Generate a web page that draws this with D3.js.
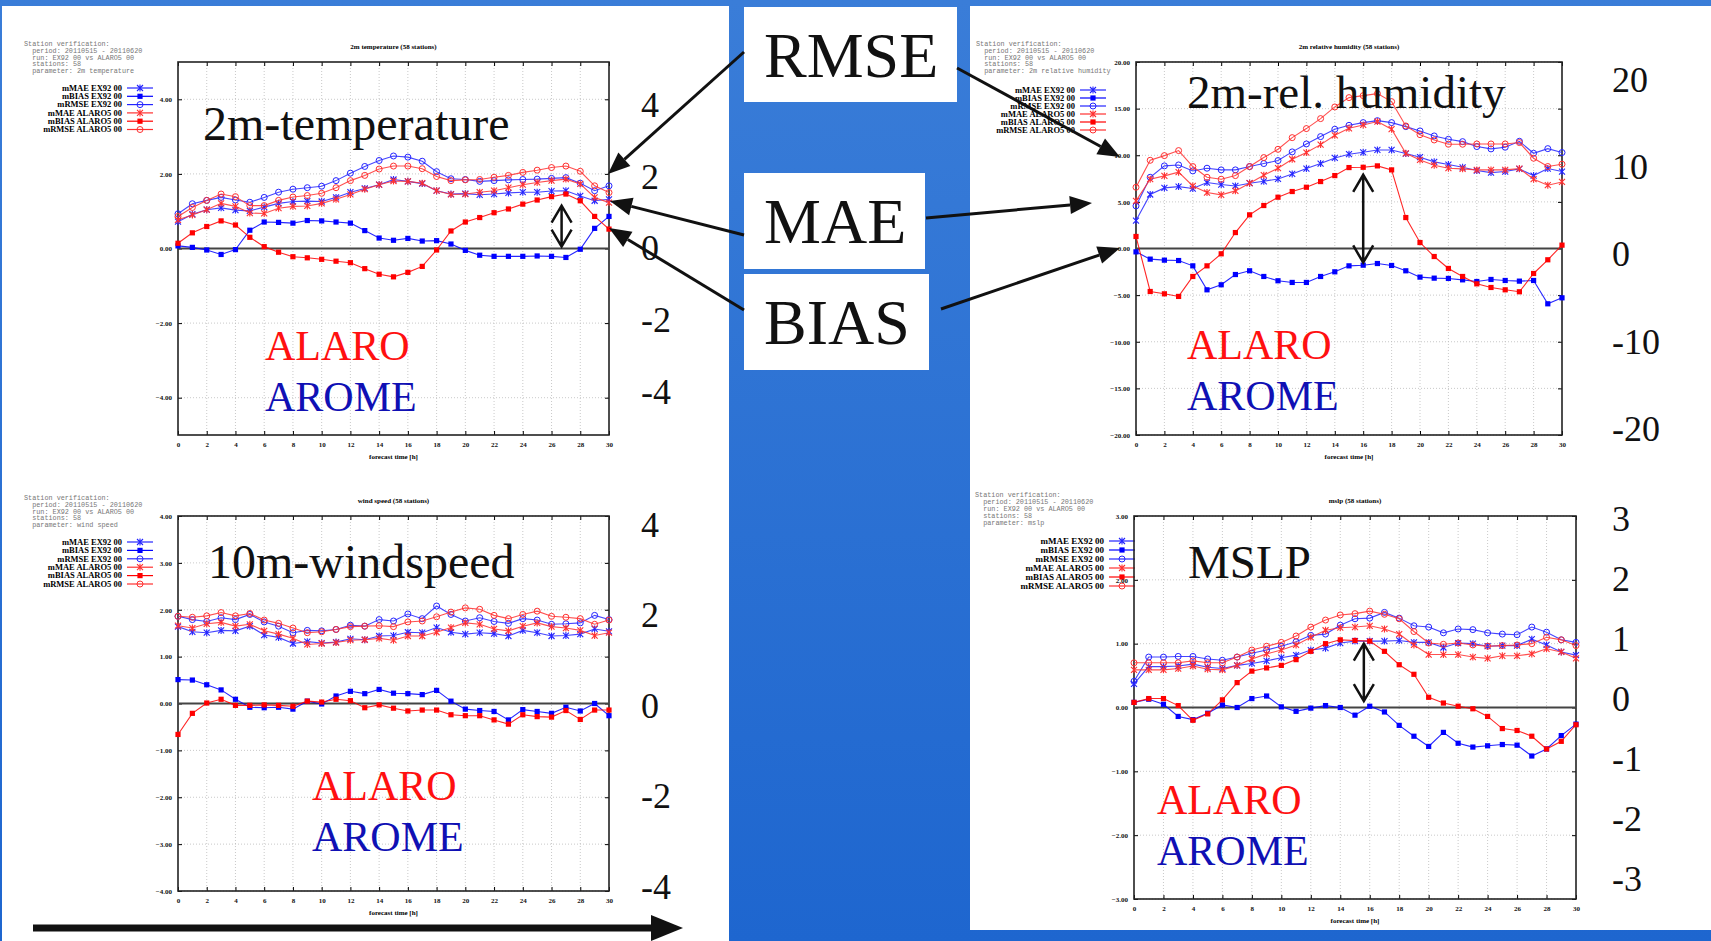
<!DOCTYPE html>
<html>
<head>
<meta charset="utf-8">
<script src="https://cdn.jsdelivr.net/npm/d3@7"></script>
<style>
  body { margin: 0; overflow: hidden; background: #fff; }
  svg { display: block; }
</style>
</head>
<body>
<svg id="slide" width="1711" height="941"></svg>
<script>
// forecast hours
const hours = [0,1,2,3,4,5,6,7,8,9,10,11,12,13,14,15,16,17,18,19,20,21,22,23,24,25,26,27,28,29,30]

// 2m temperature
const t2mMaeEx  = [0.72,0.92,1.04,1.09,1.03,1.01,1.11,1.21,1.26,1.27,1.26,1.37,1.51,1.61,1.71,1.85,1.80,1.74,1.55,1.46,1.47,1.44,1.46,1.49,1.51,1.51,1.54,1.55,1.41,1.28,1.32]
const t2mBiasEx = [0.07,0.03,-0.04,-0.16,-0.03,0.49,0.71,0.70,0.68,0.75,0.74,0.71,0.68,0.48,0.28,0.22,0.27,0.20,0.21,0.12,-0.05,-0.18,-0.21,-0.21,-0.21,-0.20,-0.21,-0.24,-0.02,0.54,0.86]
const t2mRmseEx = [0.93,1.20,1.29,1.37,1.30,1.24,1.37,1.51,1.59,1.63,1.67,1.82,2.02,2.20,2.36,2.48,2.45,2.34,2.06,1.87,1.85,1.80,1.82,1.84,1.85,1.86,1.88,1.90,1.75,1.55,1.68]
const t2mMaeAl  = [0.77,0.90,1.04,1.21,1.13,0.95,0.94,1.08,1.13,1.14,1.21,1.32,1.45,1.59,1.71,1.81,1.80,1.75,1.55,1.45,1.46,1.51,1.55,1.63,1.71,1.77,1.82,1.86,1.73,1.37,1.23]
const t2mBiasAl = [0.14,0.42,0.59,0.74,0.63,0.30,0.05,-0.10,-0.22,-0.25,-0.29,-0.34,-0.38,-0.54,-0.69,-0.76,-0.64,-0.48,-0.04,0.47,0.71,0.83,0.96,1.06,1.19,1.30,1.39,1.46,1.28,0.86,0.52]
const t2mRmseAl = [0.86,1.10,1.29,1.46,1.39,1.15,1.15,1.29,1.38,1.42,1.48,1.63,1.82,1.96,2.13,2.21,2.21,2.14,1.93,1.82,1.84,1.85,1.91,1.96,2.04,2.10,2.17,2.21,2.07,1.68,1.50]

// 2m relative humidity
const rhMaeEx  = [3.00,5.79,6.50,6.64,6.43,7.07,6.86,6.71,7.00,7.21,7.46,8.00,8.57,9.11,9.71,10.11,10.32,10.57,10.57,10.18,9.79,9.29,9.00,8.71,8.36,8.14,8.25,8.54,7.82,8.57,8.25]
const rhBiasEx = [-0.36,-1.14,-1.25,-1.29,-1.86,-4.43,-3.89,-2.79,-2.39,-3.00,-3.46,-3.64,-3.64,-3.00,-2.50,-1.86,-1.79,-1.61,-1.82,-2.39,-3.07,-3.18,-3.21,-3.36,-3.54,-3.32,-3.43,-3.50,-3.43,-5.93,-5.29]
const rhRmseEx = [4.57,7.64,8.86,8.96,8.32,8.61,8.43,8.43,8.79,9.11,9.43,10.36,11.21,12.00,12.79,13.21,13.50,13.71,13.50,13.07,12.61,12.07,11.71,11.46,10.93,10.68,10.86,11.50,10.21,10.71,10.29]
const rhMaeAl  = [5.11,7.43,7.79,8.18,6.71,6.00,5.75,6.18,7.00,7.86,8.61,9.57,10.29,11.14,12.14,12.89,13.25,13.61,12.79,10.21,9.50,8.93,8.61,8.54,8.43,8.43,8.43,8.57,7.43,6.79,7.14]
const rhBiasAl = [1.29,-4.61,-4.86,-5.14,-3.00,-1.86,-0.57,1.71,3.61,4.61,5.50,6.11,6.57,7.18,7.82,8.68,8.71,8.86,8.43,3.32,0.64,-0.86,-2.14,-3.00,-3.79,-4.18,-4.43,-4.64,-2.68,-1.21,0.36]
const rhRmseAl = [6.57,9.46,9.96,10.50,8.79,7.64,7.43,7.82,8.79,9.75,10.64,11.89,12.86,13.93,15.18,16.18,16.39,16.61,15.75,13.14,12.21,11.64,11.18,11.18,11.21,11.21,11.21,11.36,9.68,8.79,9.04]

// wind speed
const wsMaeEx  = [1.64,1.53,1.51,1.56,1.55,1.65,1.46,1.41,1.28,1.32,1.29,1.31,1.38,1.36,1.44,1.45,1.52,1.51,1.62,1.52,1.48,1.51,1.49,1.44,1.56,1.51,1.44,1.45,1.48,1.59,1.54]
const wsBiasEx = [0.51,0.50,0.40,0.29,0.09,-0.08,-0.09,-0.08,-0.12,0.05,-0.01,0.16,0.26,0.21,0.30,0.22,0.21,0.19,0.28,0.05,-0.12,-0.15,-0.17,-0.35,-0.13,-0.17,-0.21,-0.08,-0.16,0.00,-0.26]
const wsRmseEx = [1.86,1.79,1.75,1.83,1.79,1.90,1.74,1.65,1.51,1.56,1.55,1.58,1.67,1.65,1.79,1.76,1.91,1.81,2.08,1.90,1.76,1.83,1.75,1.71,1.81,1.78,1.69,1.70,1.72,1.88,1.79]
const wsMaeAl  = [1.66,1.61,1.70,1.73,1.65,1.69,1.55,1.48,1.39,1.26,1.28,1.30,1.35,1.36,1.39,1.35,1.44,1.44,1.52,1.62,1.72,1.69,1.59,1.55,1.65,1.72,1.64,1.61,1.56,1.45,1.51]
const wsBiasAl = [-0.66,-0.21,0.01,0.09,-0.04,-0.04,-0.03,-0.04,-0.06,0.05,0.03,0.09,0.06,-0.09,-0.03,-0.10,-0.16,-0.14,-0.14,-0.24,-0.26,-0.26,-0.35,-0.44,-0.24,-0.28,-0.29,-0.15,-0.34,-0.14,-0.14]
const wsRmseAl = [1.86,1.84,1.87,1.94,1.87,1.92,1.78,1.71,1.61,1.51,1.53,1.58,1.64,1.65,1.66,1.64,1.74,1.76,1.85,1.95,2.04,2.01,1.88,1.81,1.90,1.97,1.86,1.84,1.81,1.69,1.78]

// mslp
const psMaeEx  = [0.37,0.64,0.64,0.65,0.68,0.63,0.61,0.66,0.69,0.73,0.78,0.82,0.90,0.93,1.01,1.04,1.04,1.04,1.05,1.02,1.02,0.94,1.01,1.00,0.96,0.97,0.97,1.07,0.98,0.87,0.82]
const psBiasEx = [0.08,0.13,0.05,-0.14,-0.19,-0.09,0.04,0.00,0.14,0.18,0.01,-0.06,-0.01,0.03,0.00,-0.12,0.02,-0.07,-0.28,-0.45,-0.61,-0.39,-0.56,-0.62,-0.60,-0.58,-0.59,-0.76,-0.65,-0.44,-0.26]
const psRmseEx = [0.41,0.79,0.79,0.80,0.80,0.76,0.74,0.79,0.85,0.90,0.96,1.03,1.13,1.15,1.29,1.39,1.40,1.49,1.40,1.28,1.26,1.17,1.23,1.22,1.17,1.15,1.14,1.26,1.18,1.06,1.02]
const psMaeAl  = [0.59,0.59,0.59,0.61,0.65,0.60,0.59,0.66,0.76,0.84,0.90,0.98,1.10,1.21,1.25,1.26,1.28,1.23,1.15,0.98,0.83,0.83,0.83,0.79,0.77,0.81,0.81,0.84,0.92,0.87,0.77]
const psBiasAl = [0.08,0.14,0.14,0.03,-0.20,-0.10,0.12,0.39,0.57,0.62,0.66,0.75,0.88,1.00,1.06,1.05,1.04,0.88,0.67,0.52,0.16,0.07,0.02,-0.02,-0.14,-0.33,-0.36,-0.45,-0.65,-0.53,-0.27]
const psRmseAl = [0.70,0.70,0.70,0.70,0.73,0.70,0.70,0.79,0.90,0.96,1.02,1.12,1.26,1.37,1.45,1.47,1.51,1.46,1.39,1.19,1.01,0.99,1.01,0.98,0.96,0.97,0.98,1.00,1.10,1.06,0.97]

// tick labels
const xTicks = [0,2,4,6,8,10,12,14,16,18,20,22,24,26,28,30]
const t2mTicks = [-4,-2,0,2,4]
const rhTicks = [-20,-15,-10,-5,0,5,10,15,20]
const wsTicks = [-4,-3,-2,-1,0,1,2,3,4]
const psTicks = [-3,-2,-1,0,1,2,3]

// big numbers written next to each chart
const t2mBig = [4,2,0,-2,-4]
const rhBig = [20,10,0,-10,-20]
const wsBig = [4,2,0,-2,-4]
const psBig = [3,2,1,0,-1,-2,-3]

const legendNames = ["mMAE EX92 00","mBIAS EX92 00","mRMSE EX92 00","mMAE ALARO5 00","mBIAS ALARO5 00","mRMSE ALARO5 00"]
const legendColors = ["#2424ff","#0000ff","#2424ff","#ff3030","#ff0000","#ff3030"]
const legendMarks = ["star","square","circle","star","square","circle"]
const headerLines = ["Station verification:","  period: 20110515 - 20110620","  run: EX92 00 vs ALARO5 00","  stations: 58"]
const boxLabels = ["RMSE","MAE","BIAS"]

const serif = "'Liberation Serif', 'Times New Roman', serif"
const svg = d3.select("#slide")

// background
const defs = svg.append("defs")
const grad = defs.append("linearGradient").attr("id","bg").attr("x1",0).attr("y1",0).attr("x2",0).attr("y2",1)
grad.append("stop").attr("offset","0%").attr("stop-color","#3a7dd8")
grad.append("stop").attr("offset","100%").attr("stop-color","#1e66cf")
svg.append("rect").attr("width",1711).attr("height",941).attr("fill","url(#bg)")
svg.append("rect").attr("x",2).attr("y",6).attr("width",727).attr("height",935).attr("fill","#fff")
svg.append("rect").attr("x",970).attr("y",6).attr("width",741).attr("height",924).attr("fill","#fff")

function drawMarker(g, type, color, cx, cy) {
  if (type === "square") {
    g.append("rect").attr("x",cx-2.6).attr("y",cy-2.6).attr("width",5.2).attr("height",5.2).attr("fill",color)
  } else if (type === "circle") {
    g.append("circle").attr("cx",cx).attr("cy",cy).attr("r",3).attr("fill","none").attr("stroke",color).attr("stroke-width",1)
  } else {
    g.append("path")
      .attr("d",`M${cx-3},${cy-3}L${cx+3},${cy+3}M${cx-3},${cy+3}L${cx+3},${cy-3}M${cx},${cy-3.5}L${cx},${cy+3.5}`)
      .attr("stroke",color).attr("stroke-width",1.1)
  }
}

function drawPanel(p) {
  const g = svg.append("g")
  const x = d3.scaleLinear().domain([0,30]).range([p.x0, p.x1])
  const y = d3.scaleLinear().domain(p.domain).range([p.y1, p.y0])

  // header text
  const hdr = headerLines.concat(["  parameter: " + p.param])
  g.selectAll(".hdr").data(hdr).join("text")
    .attr("x", p.hx).attr("y", (d,i) => p.hy + i*p.hStep)
    .attr("xml:space","preserve")
    .style("font-family","'Liberation Mono', monospace").style("font-size","6.8px")
    .attr("fill","#777").text(d => d)

  // legend
  legendNames.forEach((name,i) => {
    const ly = p.ly + i*p.lStep
    g.append("text").attr("x",p.lx).attr("y",ly).attr("text-anchor","end").attr("dy","0.33em")
      .style("font-family",serif).style("font-weight","bold").style("font-size",p.lFont+"px").text(name)
    g.append("line").attr("x1",p.lx+5).attr("x2",p.lx+31).attr("y1",ly).attr("y2",ly)
      .attr("stroke",legendColors[i]).attr("stroke-width",1.2)
    drawMarker(g, legendMarks[i], legendColors[i], p.lx+18, ly)
  })

  // title
  g.append("text").attr("x",(p.x0+p.x1)/2).attr("y",p.y0-13).attr("text-anchor","middle")
    .style("font-family",serif).style("font-weight","bold").style("font-size","7px").text(p.title)

  // grid
  g.selectAll(".gx").data(xTicks.slice(1,-1)).join("line")
    .attr("x1",d=>x(d)).attr("x2",d=>x(d)).attr("y1",p.y0).attr("y2",p.y1)
    .attr("stroke","#bbb").attr("stroke-width",0.8).attr("stroke-dasharray","1,2")
  g.selectAll(".gy").data(p.ticks.filter(t => t !== 0)).join("line")
    .attr("x1",p.x0).attr("x2",p.x1).attr("y1",d=>y(d)).attr("y2",d=>y(d))
    .attr("stroke","#bbb").attr("stroke-width",0.8).attr("stroke-dasharray","1,2")

  // axes
  const fontAxis = a => a.selectAll("text").style("font-family",serif).style("font-weight","bold").style("font-size","7px").attr("fill","#111")
  g.append("g").attr("transform",`translate(0,${p.y1})`)
    .call(d3.axisBottom(x).tickValues(xTicks).tickSize(-4).tickPadding(7).tickFormat(d3.format("d")))
    .call(a => a.select(".domain").remove()).call(fontAxis)
  g.append("g").attr("transform",`translate(0,${p.y0})`)
    .call(d3.axisTop(x).tickValues(xTicks).tickSize(-4).tickFormat(""))
    .call(a => a.select(".domain").remove())
  g.append("g").attr("transform",`translate(${p.x0},0)`)
    .call(d3.axisLeft(y).tickValues(p.ticks).tickSize(-4).tickPadding(6).tickFormat(d3.format(".2f")))
    .call(a => a.select(".domain").remove()).call(fontAxis)
  g.append("g").attr("transform",`translate(${p.x1},0)`)
    .call(d3.axisRight(y).tickValues(p.ticks).tickSize(-4).tickFormat(""))
    .call(a => a.select(".domain").remove())
  g.append("text").attr("x",(p.x0+p.x1)/2).attr("y",p.y1+24).attr("text-anchor","middle")
    .style("font-family",serif).style("font-weight","bold").style("font-size","7px").text("forecast time [h]")

  // frame + zero line
  g.append("rect").attr("x",p.x0).attr("y",p.y0).attr("width",p.x1-p.x0).attr("height",p.y1-p.y0)
    .attr("fill","none").attr("stroke","#222").attr("stroke-width",1.6)
  g.append("line").attr("x1",p.x0).attr("x2",p.x1).attr("y1",y(0)).attr("y2",y(0))
    .attr("stroke","#444").attr("stroke-width",2)

  // series
  const line = d3.line().x((d,i) => x(hours[i])).y(d => y(d))
  p.series.forEach((vals,k) => {
    g.append("path").datum(vals).attr("d",line).attr("fill","none")
      .attr("stroke",legendColors[k]).attr("stroke-width",1.1).attr("stroke-opacity",0.85)
    vals.forEach((v,i) => drawMarker(g, legendMarks[k], legendColors[k], x(hours[i]), y(v)))
  })

  // big label + model names
  g.append("text").attr("x",p.nx).attr("y",p.ny).style("font-family",serif)
    .style("font-size",p.nFont+"px").attr("fill","#111").text(p.name)
  g.append("text").attr("x",p.mx).attr("y",p.my).style("font-family",serif)
    .style("font-size","42px").attr("fill","#ff1010").text("ALARO")
  g.append("text").attr("x",p.mx).attr("y",p.my+51).style("font-family",serif)
    .style("font-size","42px").attr("fill","#1010b4").text("AROME")

  // double arrow annotation
  if (p.arrow) {
    const ax = x(p.arrow[0]), ya = y(p.arrow[1]), yb = y(p.arrow[2])
    g.append("path")
      .attr("d",`M${ax},${ya}L${ax},${yb}M${ax-10},${ya+17}L${ax},${ya}L${ax+10},${ya+17}M${ax-10},${yb-17}L${ax},${yb}L${ax+10},${yb-17}`)
      .attr("fill","none").attr("stroke","#111").attr("stroke-width",2.5)
  }

  // big overlay numbers
  const yBig = d3.scaleLinear().domain([p.big[0], p.big[p.big.length-1]]).range(p.bigRange)
  g.selectAll(".big").data(p.big).join("text")
    .attr("x",p.bx).attr("y",d => yBig(d)).attr("dy","0.36em")
    .style("font-family",serif).style("font-size","36px").attr("fill","#111").text(d => d)
}

drawPanel({ param:"2m temperature", title:"2m temperature (58 stations)", x0:178, x1:609, y0:62, y1:435, domain:[-5,5], ticks:t2mTicks,
  series:[t2mMaeEx,t2mBiasEx,t2mRmseEx,t2mMaeAl,t2mBiasAl,t2mRmseAl],
  hx:24, hy:46, hStep:6.8, lx:122, ly:88, lStep:8.3, lFont:8.5,
  name:"2m-temperature", nx:203, ny:140, nFont:48, mx:265, my:360,
  arrow:[26.7,1.15,0.05], big:t2mBig, bigRange:[104,391], bx:641 })

drawPanel({ param:"2m relative humidity", title:"2m relative humidity (58 stations)", x0:1136, x1:1562, y0:62, y1:435, domain:[-20,20], ticks:rhTicks,
  series:[rhMaeEx,rhBiasEx,rhRmseEx,rhMaeAl,rhBiasAl,rhRmseAl],
  hx:976, hy:46, hStep:6.8, lx:1075, ly:90, lStep:8, lFont:8.5,
  name:"2m-rel. humidity", nx:1187, ny:108, nFont:47, mx:1187, my:359,
  arrow:[16,7.9,-1.5], big:rhBig, bigRange:[79,428], bx:1612 })

drawPanel({ param:"wind speed", title:"wind speed (58 stations)", x0:178, x1:609, y0:516, y1:891, domain:[-4,4], ticks:wsTicks,
  series:[wsMaeEx,wsBiasEx,wsRmseEx,wsMaeAl,wsBiasAl,wsRmseAl],
  hx:24, hy:500, hStep:6.8, lx:122, ly:542, lStep:8.4, lFont:8.5,
  name:"10m-windspeed", nx:208, ny:578, nFont:48, mx:312, my:800,
  arrow:null, big:wsBig, bigRange:[524,886], bx:641 })

drawPanel({ param:"mslp", title:"mslp (58 stations)", x0:1134, x1:1576, y0:516, y1:899, domain:[-3,3], ticks:psTicks,
  series:[psMaeEx,psBiasEx,psRmseEx,psMaeAl,psBiasAl,psRmseAl],
  hx:975, hy:497, hStep:7, lx:1104, ly:541, lStep:9, lFont:9,
  name:"MSLP", nx:1188, ny:578, nFont:47, mx:1157, my:814,
  arrow:[15.6,1.0,0.1], big:psBig, bigRange:[518,878], bx:1612 })

// middle label boxes
const boxes = [{x:744,y:7,w:213,h:95},{x:744,y:173,w:181,h:96},{x:744,y:274,w:185,h:96}]
boxes.forEach((b,i) => {
  svg.append("rect").attr("x",b.x).attr("y",b.y).attr("width",b.w).attr("height",b.h).attr("fill","#fff")
  svg.append("text").attr("x",b.x+20).attr("y",b.y+b.h/2).attr("dy","0.35em")
    .style("font-family",serif).style("font-size","64px").attr("fill","#111").text(boxLabels[i])
})

// pointer arrows
function arrow(x1,y1,x2,y2,w,len,half) {
  const a = Math.atan2(y2-y1,x2-x1)
  const bx = x2 - len*Math.cos(a), by = y2 - len*Math.sin(a)
  svg.append("line").attr("x1",x1).attr("y1",y1).attr("x2",bx).attr("y2",by)
    .attr("stroke","#111").attr("stroke-width",w)
  const px = -Math.sin(a)*half, py = Math.cos(a)*half
  svg.append("path").attr("d",`M${x2},${y2}L${bx+px},${by+py}L${bx-px},${by-py}Z`).attr("fill","#111")
}
arrow(744,52,608,174,3,22,9)
arrow(744,235,610,201,3,22,9)
arrow(744,310,609,228,3,22,9)
arrow(957,68,1120,157,3,22,9)
arrow(926,218,1092,203,3,22,9)
arrow(941,309,1120,248,3,22,9)
arrow(33,928,683,928,7,32,13)
</script>
</body>
</html>
